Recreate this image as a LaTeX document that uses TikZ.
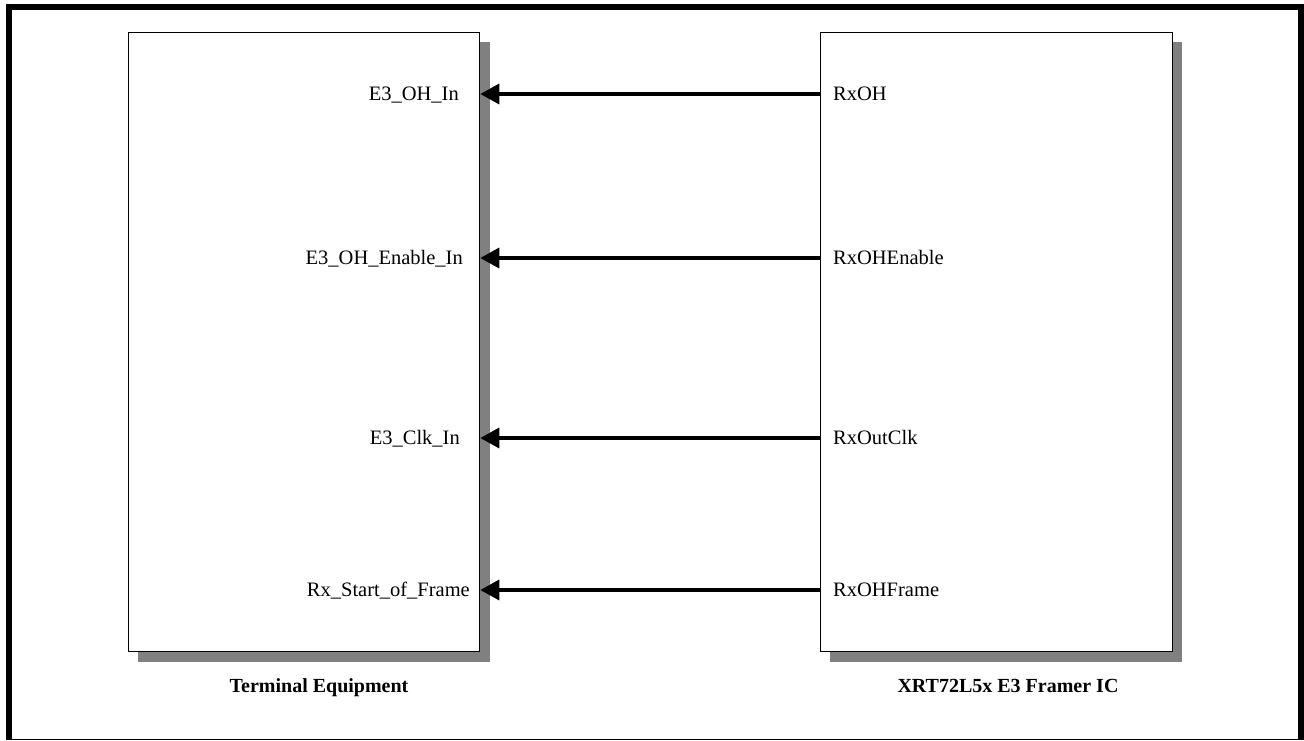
\documentclass[tikz,border=0pt]{standalone}
\usepackage{fontspec}
\setmainfont{Liberation Serif}
\usetikzlibrary{arrows.meta}
\tikzset{
  blk/.style={draw=black, line width=1.3pt, fill=white},
  shad/.style={fill=black!50, draw=none},
  sig/.style={line width=3.5pt, -{Triangle[length=19pt,width=20pt]}},
  lbl/.style={font=\fontsize{20.5}{24}\selectfont, inner sep=0pt},
  captext/.style={font=\fontsize{20}{24}\selectfont\bfseries, inner sep=0pt},
}
\begin{document}
\begin{tikzpicture}[x=1pt,y=-1pt]
\useasboundingbox (0,0) rectangle (1304,740);
% outer frame
\fill[white] (0,0) rectangle (1304,740);
\fill[black] (6,4) rectangle (1304,10);
\fill[black] (6,4) rectangle (12,740);
\fill[black] (1298,4) rectangle (1304,740);
\fill[black] (12,738.5) rectangle (1298,740);
% shadows
\fill[shad] (138,42) rectangle (490,662);
\fill[shad] (830,42) rectangle (1182,662);
% boxes
\node[blk, minimum width=351pt, minimum height=619pt, anchor=north west] (te) at (128,32) {};
\node[blk, minimum width=352pt, minimum height=619pt, anchor=north west] (ic) at (820,32) {};
% coordinates for signals
\coordinate (l1) at (te.east |- 0,94);
\coordinate (l2) at (te.east |- 0,258);
\coordinate (l3) at (te.east |- 0,438);
\coordinate (l4) at (te.east |- 0,590);
\coordinate (r1) at (ic.west |- 0,94);
\coordinate (r2) at (ic.west |- 0,258);
\coordinate (r3) at (ic.west |- 0,438);
\coordinate (r4) at (ic.west |- 0,590);
% labels
\node[lbl, anchor=base east] (a1) at (459,100.8) {E3\_OH\_In};
\node[lbl, anchor=base east] (a2) at (463,264.8) {E3\_OH\_Enable\_In};
\node[lbl, anchor=base east] (a3) at (460,444.8) {E3\_Clk\_In};
\node[lbl, anchor=base east] (a4) at (470,596.8) {Rx\_Start\_of\_Frame};
\node[lbl, anchor=base west] (b1) at (833,100.8) {RxOH};
\node[lbl, anchor=base west] (b2) at (833,264.8) {RxOHEnable};
\node[lbl, anchor=base west] (b3) at (833,444.8) {RxOutClk};
\node[lbl, anchor=base west] (b4) at (833,596.8) {RxOHFrame};
% arrows
\draw[sig] (r1) -- (l1);
\draw[sig] (r2) -- (l2);
\draw[sig] (r3) -- (l3);
\draw[sig] (r4) -- (l4);
% captions
\node[captext, anchor=base] (c1) at (319,692) {Terminal Equipment};
\node[captext, anchor=base] (c2) at (1008,692) {XRT72L5x E3 Framer IC};
\end{tikzpicture}
\end{document}
